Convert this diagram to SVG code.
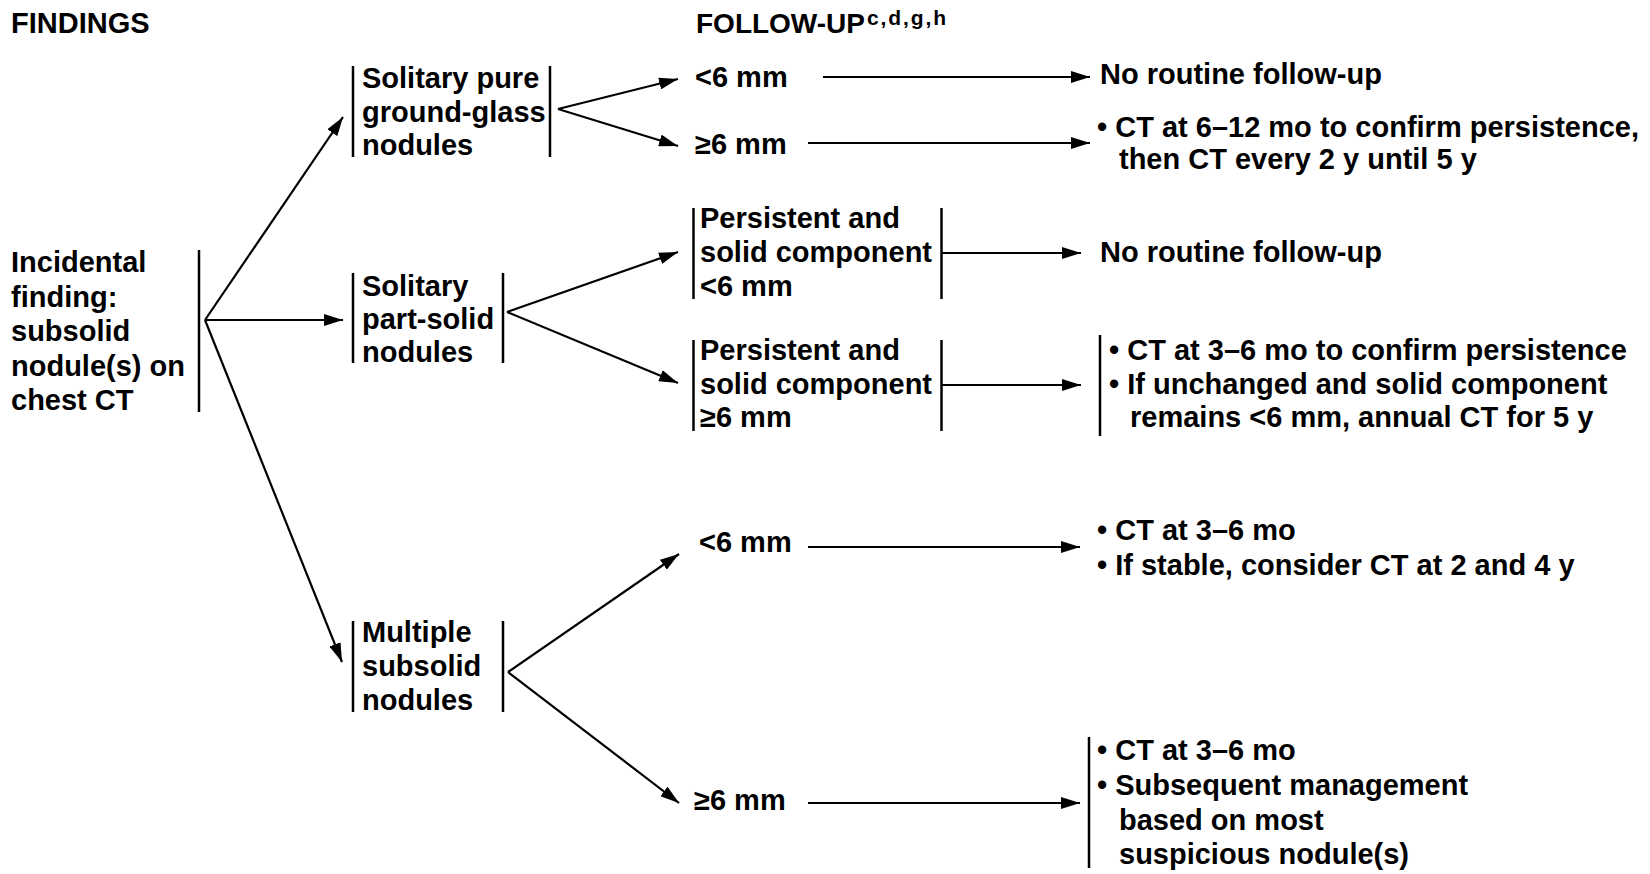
<svg xmlns="http://www.w3.org/2000/svg" width="1650" height="874" viewBox="0 0 1650 874">
<style>
text{font-family:"Liberation Sans",Arial,Helvetica,sans-serif;font-weight:bold;font-size:29px;fill:#000}
.bar{stroke:#000;stroke-width:2.5;fill:none}
.con line{stroke:#000;stroke-width:2.2;fill:none;marker-end:url(#ah)}
.sup{font-size:21px}
</style>
<defs>
<marker id="ah" markerUnits="userSpaceOnUse" markerWidth="19" markerHeight="12" refX="19" refY="6" orient="auto">
<path d="M0,0 L19,6 L0,12 z" fill="#000"/>
</marker>
</defs>
<rect width="1650" height="874" fill="#fff"/>
<g id="headers">
<text x="11" y="33">FINDINGS</text>
<text x="696" y="33" style="font-size:28px">FOLLOW-UP</text>
<text class="sup" x="867" y="25" textLength="79" lengthAdjust="spacing">c,d,g,h</text>
</g>
<g id="n-incidental">
<text x="11" y="272"><tspan x="11">Incidental</tspan><tspan x="11" dy="34.5">finding:</tspan><tspan x="11" dy="34.5">subsolid</tspan><tspan x="11" dy="34.5">nodule(s) on</tspan><tspan x="11" dy="34.5">chest CT</tspan></text>
<line class="bar" x1="199" y1="250" x2="199" y2="412"/>
</g>
<g id="n-pureggn">
<line class="bar" x1="353" y1="66" x2="353" y2="157"/>
<text x="362" y="88"><tspan x="362">Solitary pure</tspan><tspan x="362" dy="33.5">ground-glass</tspan><tspan x="362" dy="33.5">nodules</tspan></text>
<line class="bar" x1="550" y1="66" x2="550" y2="157"/>
</g>
<g id="n-partsolid">
<line class="bar" x1="353" y1="273" x2="353" y2="363"/>
<text x="362" y="296"><tspan x="362">Solitary</tspan><tspan x="362" dy="33">part-solid</tspan><tspan x="362" dy="33">nodules</tspan></text>
<line class="bar" x1="503" y1="273" x2="503" y2="363"/>
</g>
<g id="n-multiple">
<line class="bar" x1="353" y1="621" x2="353" y2="712"/>
<text x="362" y="642"><tspan x="362">Multiple</tspan><tspan x="362" dy="34">subsolid</tspan><tspan x="362" dy="34">nodules</tspan></text>
<line class="bar" x1="503" y1="621" x2="503" y2="712"/>
</g>
<g id="n-ggn-lt6">
<text x="695" y="87">&lt;6 mm</text>
</g>
<g id="n-ggn-ge6">
<text x="695" y="154">≥6 mm</text>
</g>
<g id="n-ps-lt6">
<line class="bar" x1="693.5" y1="208" x2="693.5" y2="299"/>
<text x="700" y="228"><tspan x="700">Persistent and</tspan><tspan x="700" dy="34">solid component</tspan><tspan x="700" dy="34">&lt;6 mm</tspan></text>
<line class="bar" x1="941.5" y1="208" x2="941.5" y2="299"/>
</g>
<g id="n-ps-ge6">
<line class="bar" x1="693.5" y1="340" x2="693.5" y2="431"/>
<text x="700" y="360"><tspan x="700">Persistent and</tspan><tspan x="700" dy="33.5">solid component</tspan><tspan x="700" dy="33.5">≥6 mm</tspan></text>
<line class="bar" x1="941.5" y1="340" x2="941.5" y2="431"/>
</g>
<g id="n-m-lt6">
<text x="699" y="552">&lt;6 mm</text>
</g>
<g id="n-m-ge6">
<text x="694" y="810">≥6 mm</text>
</g>
<g id="o-ggn-lt6">
<text x="1100" y="84">No routine follow-up</text>
</g>
<g id="o-ggn-ge6">
<text x="1097" y="137"><tspan x="1097">• CT at 6–12 mo to confirm persistence,</tspan><tspan x="1119" dy="32">then CT every 2 y until 5 y</tspan></text>
</g>
<g id="o-ps-lt6">
<text x="1100" y="262">No routine follow-up</text>
</g>
<g id="o-ps-ge6">
<line class="bar" x1="1100" y1="335" x2="1100" y2="436"/>
<text x="1109" y="360"><tspan x="1109">• CT at 3–6 mo to confirm persistence</tspan><tspan x="1109" dy="33.5">• If unchanged and solid component</tspan><tspan x="1130" dy="33.5">remains &lt;6 mm, annual CT for 5 y</tspan></text>
</g>
<g id="o-m-lt6">
<text x="1097" y="540"><tspan x="1097">• CT at 3–6 mo</tspan><tspan x="1097" dy="35">• If stable, consider CT at 2 and 4 y</tspan></text>
</g>
<g id="o-m-ge6">
<line class="bar" x1="1089" y1="737" x2="1089" y2="868"/>
<text x="1097" y="760"><tspan x="1097">• CT at 3–6 mo</tspan><tspan x="1097" dy="35">• Subsequent management</tspan><tspan x="1119" dy="35">based on most</tspan><tspan x="1119" dy="34">suspicious nodule(s)</tspan></text>
</g>
<g id="connectors" class="con">
<line x1="205" y1="320" x2="343" y2="117"/>
<line x1="205" y1="320" x2="343" y2="320"/>
<line x1="205" y1="320" x2="342" y2="662"/>
<line x1="558" y1="109" x2="678" y2="79"/>
<line x1="558" y1="109" x2="678" y2="146"/>
<line x1="823" y1="77" x2="1090" y2="77"/>
<line x1="808" y1="143" x2="1090" y2="143"/>
<line x1="507" y1="312" x2="678" y2="252"/>
<line x1="507" y1="312" x2="678" y2="383"/>
<line x1="942" y1="253" x2="1081" y2="253"/>
<line x1="942" y1="385" x2="1081" y2="385"/>
<line x1="508" y1="672" x2="679" y2="554"/>
<line x1="508" y1="672" x2="679" y2="803"/>
<line x1="808" y1="547" x2="1080" y2="547"/>
<line x1="808" y1="803" x2="1080" y2="803"/>
</g>
</svg>
